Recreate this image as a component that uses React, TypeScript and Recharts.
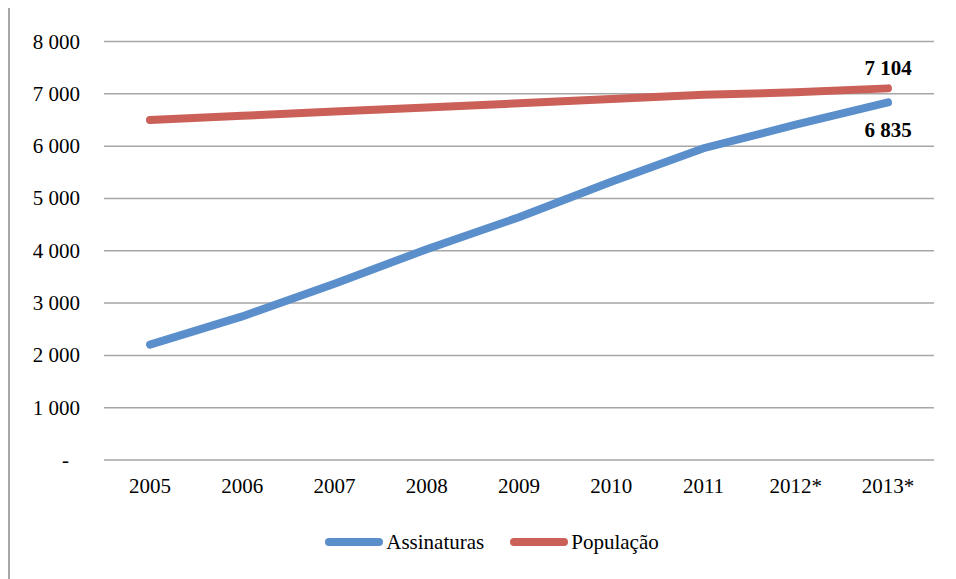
import React from 'react'
import { CartesianGrid, Legend, Line, LineChart, XAxis, YAxis } from 'recharts'

const years = ['2005', '2006', '2007', '2008', '2009', '2010', '2011', '2012*', '2013*']
const assinaturas = [2205, 2745, 3368, 4030, 4640, 5320, 5960, 6410, 6835]
const populacao = [6500, 6580, 6660, 6740, 6820, 6900, 6980, 7030, 7104]
const yTicks = [0, 1000, 2000, 3000, 4000, 5000, 6000, 7000, 8000]

const BLUE = '#5B8FCB'
const RED = '#CB6058'
const FONT = '"Liberation Serif", "Times New Roman", serif'
const SIZE = 21

const data = years.map((year, i) => ({
  year,
  Assinaturas: assinaturas[i],
  População: populacao[i],
}))

const fmt = (v: number) => (v === 0 ? '-' : String(v).replace(/\B(?=(\d{3})+(?!\d))/g, ' '))

const YTick = ({ x, y, payload }: any) => (
  <text
    x={payload.value === 0 ? x - 11 : x}
    y={y}
    dy={7}
    textAnchor="end"
    style={{ fontFamily: FONT, fontSize: SIZE }}
    fill="#000"
  >
    {fmt(payload.value)}
  </text>
)

const XTick = ({ x, y, payload }: any) => (
  <text x={x} y={y} dy={14} textAnchor="middle" style={{ fontFamily: FONT, fontSize: SIZE }} fill="#000">
    {payload.value}
  </text>
)

// value label only on the last point of each series
const endLabel = (dy: number) => (props: any) => {
  const { x, y, index, value } = props
  if (index !== years.length - 1) return null
  return (
    <text
      x={x}
      y={y + dy}
      textAnchor="middle"
      style={{ fontFamily: FONT, fontSize: SIZE, fontWeight: 'bold' }}
      fill="#000"
    >
      {fmt(value)}
    </text>
  )
}

const LegendContent = () => (
  <div
    style={{
      display: 'flex',
      justifyContent: 'center',
      alignItems: 'center',
      height: 60,
      paddingTop: 14,
      paddingLeft: 16,
      boxSizing: 'border-box',
      fontFamily: FONT,
      fontSize: SIZE,
    }}
  >
    {[
      { name: 'Assinaturas', color: BLUE },
      { name: 'População', color: RED },
    ].map((item, i) => (
      <div key={item.name} style={{ display: 'flex', alignItems: 'center', marginLeft: i ? 26 : 0 }}>
        <svg width={58} height={10} style={{ marginRight: 3 }}>
          <line x1={4} y1={5} x2={54} y2={5} stroke={item.color} strokeWidth={8} strokeLinecap="round" />
        </svg>
        <span>{item.name}</span>
      </div>
    ))}
  </div>
)

export default function App() {
  return (
    <div
      style={{
        position: 'relative',
        top: -2,
        width: 960,
        height: 580,
        borderLeft: '2px solid #a6a6a6',
        borderTop: '2px solid #a6a6a6',
      }}
    >
      <LineChart
        width={946}
        height={571}
        data={data}
        margin={{ top: 33.5, right: 22, bottom: 14, left: 24 }}
      >
        <CartesianGrid vertical={false} stroke="#a6a6a6" strokeWidth={1.5} />
        <XAxis
          dataKey="year"
          axisLine={false}
          tickLine={false}
          tickSize={0}
          tickMargin={19}
          height={45}
          interval={0}
          padding={{ left: 46, right: 46 }}
          tick={<XTick />}
        />
        <YAxis
          domain={[0, 8000]}
          ticks={yTicks}
          width={70}
          axisLine={false}
          tickLine={false}
          tickSize={0}
          tickMargin={24}
          tick={<YTick />}
        />
        <Legend verticalAlign="bottom" height={60} content={<LegendContent />} />
        <Line
          type="linear"
          dataKey="Assinaturas"
          stroke={BLUE}
          strokeWidth={8}
          strokeLinecap="round"
          dot={false}
          activeDot={false}
          isAnimationActive={false}
          label={endLabel(35)}
        />
        <Line
          type="linear"
          dataKey="População"
          stroke={RED}
          strokeWidth={8}
          strokeLinecap="round"
          dot={false}
          activeDot={false}
          isAnimationActive={false}
          label={endLabel(-13)}
        />
      </LineChart>
    </div>
  )
}
